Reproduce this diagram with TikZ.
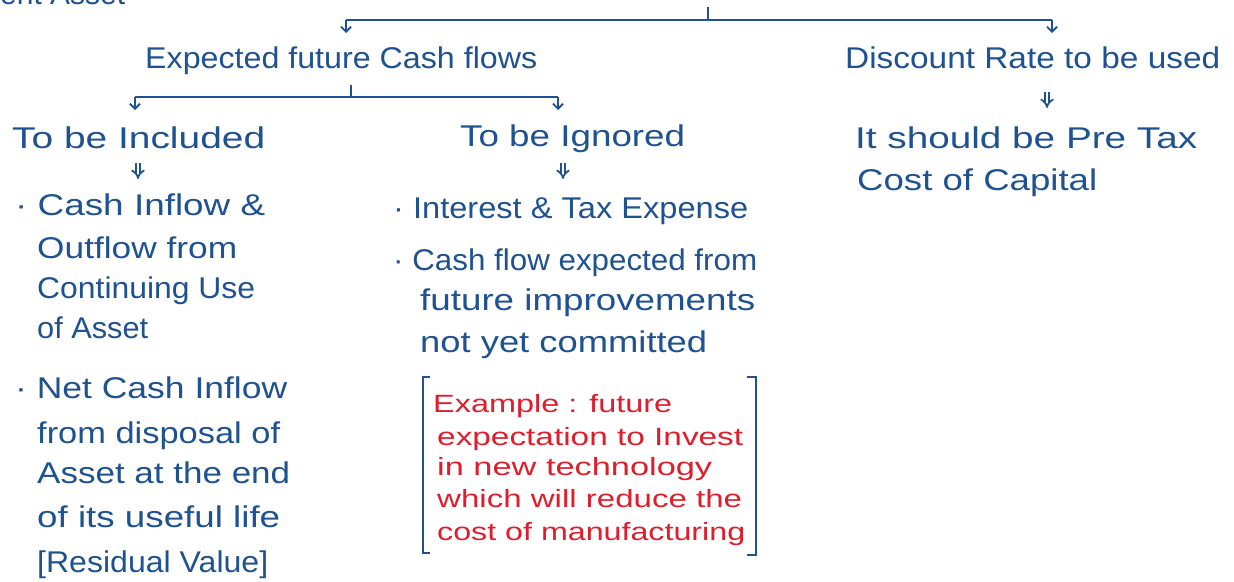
\documentclass[tikz,border=0pt]{standalone}
\usepackage{fontspec}
\setmainfont{Liberation Sans}
\usepackage{graphicx}
\usetikzlibrary{arrows.meta}
\definecolor{ink}{RGB}{31,82,145}
\definecolor{redink}{RGB}{222,30,45}
\newcommand\fw[2]{\resizebox{#1pt}{\height}{#2}}
\tikzset{
  txt/.style={inner sep=0pt, anchor=base west, text=ink, font=\fontsize{30}{30}\selectfont},
  rtxt/.style={inner sep=0pt, anchor=base west, text=redink, font=\fontsize{25}{25}\selectfont},
  conn/.style={draw=ink, line width=2.2pt},
  arr/.style={conn, -{Straight Barb[length=5pt,width=10pt,line width=1.8pt]}},
  dblarr/.style={draw=ink, double=white, double distance=2.6pt, line width=1.8pt, -{Implies[length=6pt]}},
  brk/.style={draw=ink, line width=2.2pt}
}
\begin{document}
\begin{tikzpicture}[x=1pt,y=-1pt]
\useasboundingbox (0,0) rectangle (1234,581);
\fill[white] (0,0) rectangle (1234,581);

% partial heading at the top edge
\node[txt] (head) at (0,4) {\fw{125}{ent Asset}};

% level 1
\node[txt] (exp) at (145,68) {\fw{392}{Expected future Cash flows}};
\node[txt] (disc) at (845,68) {\fw{375}{Discount Rate to be used}};

\coordinate (root) at (708,7);
\coordinate (barA) at (708,20);
\coordinate (barL) at (346,20);
\coordinate (barR) at (1052,20);
\coordinate (tipL) at (346,33);
\coordinate (tipR) at (1052,33);
\draw[conn] (root) -- (barA);
\draw[conn] (barL) -- (barR);
\draw[arr] (barL) -- (tipL);
\draw[arr] (barR) -- (tipR);

% level 2
\node[txt] (incl) at (12,148) {\fw{253}{To be Included}};
\node[txt] (ign) at (460,146) {\fw{225}{To be Ignored}};

\coordinate (root2) at (351,85);
\coordinate (bar2A) at (351,97);
\coordinate (bar2L) at (135,97);
\coordinate (bar2R) at (558,97);
\coordinate (tip2L) at (135,110);
\coordinate (tip2R) at (558,110);
\draw[conn] (root2) -- (bar2A);
\draw[conn] (bar2L) -- (bar2R);
\draw[arr] (bar2L) -- (tip2L);
\draw[arr] (bar2R) -- (tip2R);

% double arrows
\coordinate (d1s) at (138,163); \coordinate (d1e) at (138,179);
\coordinate (d2s) at (563,163); \coordinate (d2e) at (563,179);
\coordinate (d3s) at (1047,92); \coordinate (d3e) at (1047,108);
\draw[dblarr] (d1s) -- (d1e);
\draw[dblarr] (d2s) -- (d2e);
\draw[dblarr] (d3s) -- (d3e);

% discount rate result
\node[txt] (pre1) at (855,148) {\fw{342}{It should be Pre Tax}};
\node[txt] (pre2) at (857,190) {\fw{240}{Cost of Capital}};

% to be included
\node[txt] (i1) at (15,215) {\fw{250}{· Cash Inflow \&}};
\node[txt] (i2) at (37,258) {\fw{200}{Outflow from}};
\node[txt] (i3) at (37,298) {\fw{218}{Continuing Use}};
\node[txt] (i4) at (37,338) {\fw{111}{of Asset}};
\node[txt] (i5) at (15,398) {\fw{272}{· Net Cash Inflow}};
\node[txt] (i6) at (37,443) {\fw{243}{from disposal of}};
\node[txt] (i7) at (37,483) {\fw{253}{Asset at the end}};
\node[txt] (i8) at (37,527) {\fw{243}{of its useful life}};
\node[txt] (i9) at (37,572) {\fw{231}{[Residual Value]}};

% to be ignored
\node[txt] (g1) at (393,218) {\fw{355}{· Interest \& Tax Expense}};
\node[txt] (g2) at (393,270) {\fw{364}{· Cash flow expected from}};
\node[txt] (g3) at (420,310) {\fw{335}{future improvements}};
\node[txt] (g4) at (420,352) {\fw{287}{not yet committed}};

% example in brackets
\node[rtxt] (e1) at (433,412) {\fw{239}{Example : future}};
\node[rtxt] (e2) at (437,445) {\fw{306}{expectation to Invest}};
\node[rtxt] (e3) at (437,475) {\fw{275}{in new technology}};
\node[rtxt] (e4) at (437,507) {\fw{305}{which will reduce the}};
\node[rtxt] (e5) at (437,540) {\fw{308}{cost of manufacturing}};
\draw[brk] (430,377) -- (423,377) -- (423,553) -- (430,553);
\draw[brk] (747,377) -- (756,377) -- (756,555) -- (747,555);
\end{tikzpicture}
\end{document}
